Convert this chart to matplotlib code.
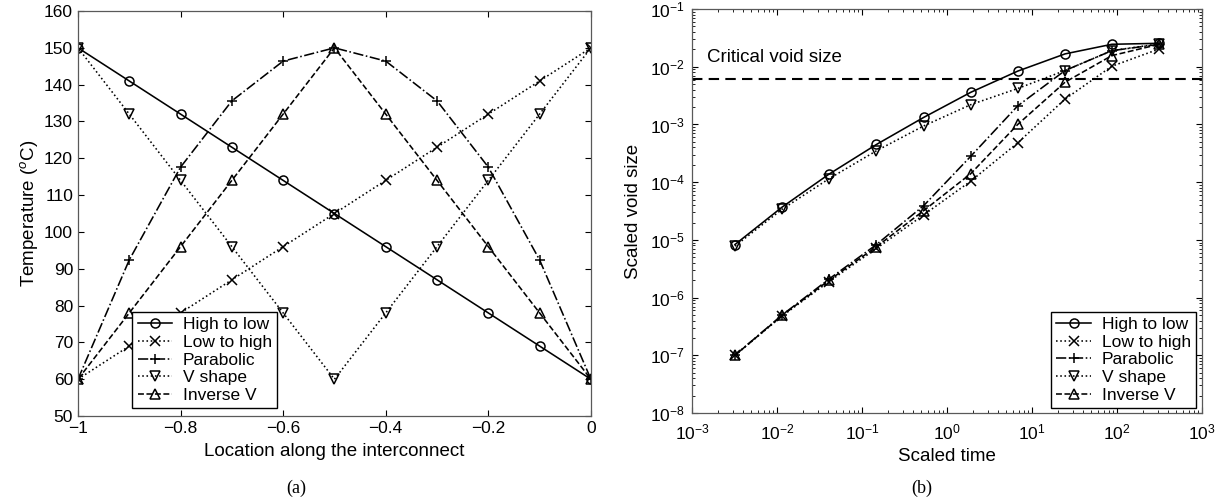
import numpy as np
import matplotlib.pyplot as plt

# -------------------------------
# DATA
# -------------------------------
location = [-1.0, -0.9, -0.8, -0.7, -0.6, -0.5, -0.4, -0.3, -0.2, -0.1, 0.0]

temp_high_low = [150, 141, 132, 123, 114, 105, 96, 87, 78, 69, 60]
temp_low_high = [60, 69, 78, 87, 96, 105, 114, 123, 132, 141, 150]
temp_parabolic = [60, 92.4, 117.6, 135.6, 146.4, 150, 146.4, 135.6, 117.6, 92.4, 60]
temp_v_shape = [150, 132, 114, 96, 78, 60, 78, 96, 114, 132, 150]
temp_inverse_v = [60, 78, 96, 114, 132, 150, 132, 114, 96, 78, 60]

scaled_time = [3.2e-3, 1.15e-2, 4.1e-2, 0.148, 0.53, 1.9, 6.8, 24.5, 87, 316]

void_high_low = [8.3e-6, 3.7e-5, 1.38e-4, 4.5e-4, 1.32e-3, 3.6e-3, 8.4e-3, 1.67e-2, 2.45e-2, 2.55e-2]
void_low_high = [1.0e-7, 4.8e-7, 1.9e-6, 7.1e-6, 2.7e-5, 1.04e-4, 4.8e-4, 2.75e-3, 1.02e-2, 2.04e-2]
void_parabolic = [1.0e-7, 5.0e-7, 2.1e-6, 8.3e-6, 3.9e-5, 2.8e-4, 2.1e-3, 8.6e-3, 1.9e-2, 2.45e-2]
void_v_shape = [7.8e-6, 3.4e-5, 1.15e-4, 3.5e-4, 9.4e-4, 2.2e-3, 4.2e-3, 8.6e-3, 1.9e-2, 2.5e-2]
void_inverse_v = [1.0e-7, 4.9e-7, 2.0e-6, 7.6e-6, 3.2e-5, 1.4e-4, 1.0e-3, 5.4e-3, 1.56e-2, 2.45e-2]

critical_void = 6.25e-3

labels = ["High to low", "Low to high", "Parabolic", "V shape", "Inverse V"]
styles = [("-", "o"), (":", "x"), ("-.", "+"), (":", "v"), ("--", "^")]

# -------------------------------
# FIGURE
# -------------------------------
plt.rcParams["font.family"] = ["Liberation Sans", "DejaVu Sans"]
plt.rcParams["mathtext.fontset"] = "custom"
plt.rcParams["mathtext.rm"] = "Liberation Sans"
plt.rcParams["mathtext.it"] = "Liberation Sans:italic"

fig = plt.figure(figsize=(12.3, 4.99), dpi=100)
ax1 = fig.add_axes([0.0634, 0.1663, 0.417, 0.8116])
ax2 = fig.add_axes([0.5626, 0.1723, 0.4146, 0.8096])


def draw(ax, x, series):
    for y, lab, (ls, mk) in zip(series, labels, styles):
        ax.plot(x, y, linestyle=ls, marker=mk, color="black", lw=1.15,
                markersize=6.5, markerfacecolor="none", markeredgewidth=1.1,
                label=lab)


draw(ax1, location, [temp_high_low, temp_low_high, temp_parabolic,
                     temp_v_shape, temp_inverse_v])
draw(ax2, scaled_time, [void_high_low, void_low_high, void_parabolic,
                        void_v_shape, void_inverse_v])

leg_kw = dict(fontsize=12.5, fancybox=False, edgecolor="black", framealpha=1,
              handlelength=2.0, borderpad=0.3, labelspacing=0.15,
              handletextpad=0.6, borderaxespad=0.0)

# panel (a)
ax1.set_xlim(-1, 0)
ax1.set_ylim(50, 160)
ax1.set_xticks([-1, -0.8, -0.6, -0.4, -0.2, 0])
ax1.set_xticklabels(["\u22121", "\u22120.8", "\u22120.6", "\u22120.4", "\u22120.2", "0"])
ax1.set_yticks(range(50, 161, 10))
ax1.set_xlabel("Location along the interconnect", fontsize=13.5, labelpad=5)
ax1.set_ylabel("Temperature ($^{o}$C)", fontsize=13.5, labelpad=3)
ax1.legend(loc="lower left", bbox_to_anchor=(0.106, 0.019), **leg_kw)

# panel (b)
ax2.set_xscale("log")
ax2.set_yscale("log")
ax2.set_xlim(1e-3, 1e3)
ax2.set_ylim(1e-8, 1e-1)
ax2.axhline(critical_void, color="black", lw=1.5, ls=(0, (5, 3)))
ax2.text(1.5e-3, 1.42e-2, "Critical void size", fontsize=13.5, va="center")
ax2.set_xlabel("Scaled time", fontsize=13.5, labelpad=4)
ax2.set_ylabel("Scaled void size", fontsize=13.5, labelpad=6)
ax2.legend(loc="lower right", bbox_to_anchor=(0.988, 0.012), **leg_kw)

for ax in (ax1, ax2):
    ax.tick_params(which="both", direction="in", top=True, right=True,
                   labelsize=12.5)
    ax.tick_params(which="major", length=4)
    ax.tick_params(which="minor", length=2)
    for s in ax.spines.values():
        s.set_color("0.35")
        s.set_linewidth(0.9)

ax2.tick_params(axis="x", which="major", pad=7)
ax2.tick_params(axis="y", which="major", pad=5)

fig.text(0.241, 0.022, "(a)", fontsize=13, ha="center", va="center",
         family="Liberation Serif")
fig.text(0.749, 0.022, "(b)", fontsize=13, ha="center", va="center",
         family="Liberation Serif")

plt.savefig("out.png", dpi=100)
